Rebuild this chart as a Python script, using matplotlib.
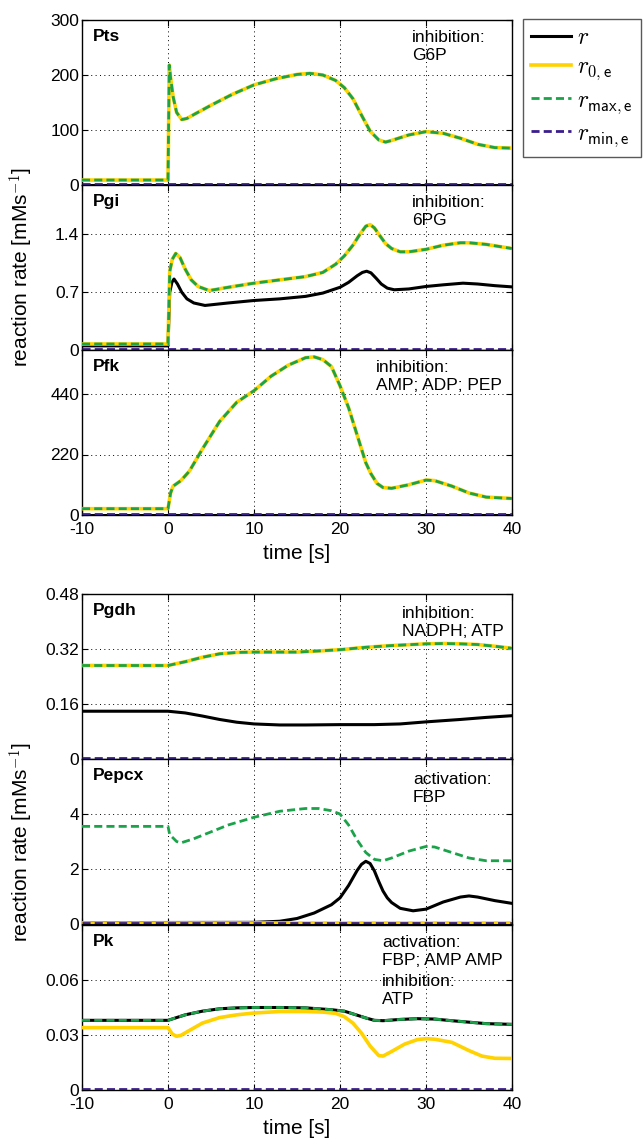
import matplotlib.pyplot as plt
import numpy as np

plt.rcParams['font.family'] = ['Liberation Sans', 'DejaVu Sans']
plt.rcParams['mathtext.fontset'] = 'cm'
plt.rcParams['axes.unicode_minus'] = False

# ---- data ----
# Pts
t_pts = [-10, 0, 0.15, 0.3, 0.6, 1, 1.6, 2.2, 3, 5, 7.5, 10, 12.5, 15, 16.5, 18, 19.5, 20.5, 21.5, 22.5, 23.5, 24.5, 25.3, 26, 28, 30, 32, 34, 36, 38, 40]
pts_r0 = [9, 9, 218, 195, 160, 132, 119, 121, 128, 145, 165, 182, 193, 201, 203, 200, 190, 177, 157, 127, 98, 82, 78, 81, 91, 97, 94, 85, 74, 68, 67]
t_flat = [-10, 40]
pts_r = [0.8, 0.8]
pts_rmin = [2.5, 2.5]

# Pgi
t_pgi = [-10, 0, 0.2, 0.5, 0.9, 1.4, 2, 2.7, 3.5, 4.8, 7, 10, 13, 16, 18, 19.5, 20.5, 21.5, 22.3, 23, 23.5, 24, 24.6, 25.3, 26, 27, 28, 30, 32, 34, 35, 37, 40]
pgi_r0 = [0.073, 0.073, 0.95, 1.1, 1.17, 1.12, 0.98, 0.85, 0.77, 0.72, 0.76, 0.81, 0.85, 0.89, 0.94, 1.04, 1.14, 1.27, 1.4, 1.5, 1.52, 1.48, 1.39, 1.29, 1.23, 1.19, 1.19, 1.22, 1.27, 1.3, 1.3, 1.28, 1.23]
t_pgi_r = [-10, 0, 0.2, 0.45, 0.7, 1.1, 1.6, 2.2, 3, 4.3, 7, 10, 13, 16, 18, 20, 21, 22, 22.6, 23.1, 23.6, 24.2, 24.8, 25.5, 26.3, 28, 30, 32, 34.3, 36, 38, 40]
pgi_r = [0.05, 0.05, 0.7, 0.82, 0.86, 0.8, 0.7, 0.62, 0.57, 0.54, 0.57, 0.6, 0.62, 0.65, 0.69, 0.76, 0.82, 0.9, 0.94, 0.955, 0.935, 0.87, 0.8, 0.75, 0.73, 0.74, 0.77, 0.79, 0.81, 0.8, 0.78, 0.765]
pgi_rmin = [0.01, 0.01]

# Pfk
t_pfk = [-10, 0, 0.3, 0.6, 1.5, 2.5, 4, 5, 6, 8, 10, 12, 14, 16, 17, 18, 19, 20, 21, 22, 23, 23.6, 24.3, 25, 26, 28, 30, 31, 33, 35, 37, 40]
pfk_r0 = [23, 23, 80, 105, 125, 160, 240, 290, 340, 410, 452, 505, 545, 572, 575, 565, 540, 470, 390, 290, 190, 150, 115, 100, 97, 110, 127, 125, 105, 80, 65, 60]
pfk_r = [0.5, 0.5]
pfk_rmin = [2, 2]

# Pgdh
t_pgdh = [-10, 0, 2, 4, 6, 8, 10, 12, 15, 18, 20, 23, 26, 30, 32, 34, 36, 38, 40]
pgdh_r0 = [0.272, 0.272, 0.283, 0.296, 0.306, 0.31, 0.311, 0.311, 0.311, 0.315, 0.318, 0.325, 0.33, 0.335, 0.336, 0.335, 0.333, 0.328, 0.322]
t_pgdh_r = [-10, 0, 2, 4, 6, 8, 10, 13, 16, 20, 24, 27, 30, 34, 37, 40]
pgdh_r = [0.139, 0.139, 0.134, 0.125, 0.115, 0.107, 0.102, 0.099, 0.099, 0.1, 0.1, 0.102, 0.108, 0.115, 0.121, 0.126]
pgdh_rmin = [0.004, 0.004]

# Pepcx
t_pep = [-10, 0, 0.2, 1, 1.5, 3, 5, 7, 10, 13, 16, 17.5, 19, 20, 21, 22, 23, 24, 25, 26, 28, 30, 31, 33, 35, 37, 40]
pep_rmax = [3.55, 3.55, 3.25, 3.0, 2.95, 3.1, 3.35, 3.6, 3.88, 4.1, 4.2, 4.2, 4.12, 4.0, 3.6, 3.05, 2.6, 2.35, 2.3, 2.4, 2.65, 2.82, 2.8, 2.6, 2.4, 2.3, 2.3]
t_pep_r = [-10, 10, 13, 15, 17, 19, 20, 21, 22, 22.5, 23, 23.5, 24, 24.5, 25, 25.5, 26, 27, 28.5, 30, 32, 34, 35, 36, 38, 40]
pep_r = [0.05, 0.06, 0.1, 0.2, 0.4, 0.7, 0.95, 1.4, 1.95, 2.17, 2.28, 2.2, 1.93, 1.55, 1.2, 0.95, 0.78, 0.57, 0.48, 0.54, 0.8, 0.98, 1.02, 0.98, 0.85, 0.75]
pep_r0 = [0.05, 0.05]
pep_rmin = [0.05, 0.05]

# Pk
t_pk = [-10, 0, 1, 2, 4, 6, 8, 10, 13, 16, 19, 20.5, 22, 23, 24, 25, 27, 29, 31, 33, 35, 37, 40]
pk_r = [0.038, 0.038, 0.0395, 0.041, 0.043, 0.0443, 0.0448, 0.045, 0.045, 0.0448, 0.0438, 0.043, 0.0408, 0.0393, 0.038, 0.0378, 0.0385, 0.0389, 0.0387, 0.0378, 0.037, 0.0362, 0.0358]
t_pk0 = [-10, 0, 0.5, 1, 1.5, 2.5, 4, 6, 8, 10, 13, 16, 18, 19.5, 20.5, 21.5, 22.5, 23.5, 24.5, 25, 26, 27.5, 29, 30, 31, 33, 35, 36.5, 38, 40]
pk_r0 = [0.034, 0.034, 0.0305, 0.0293, 0.0298, 0.0325, 0.0365, 0.0395, 0.041, 0.042, 0.0428, 0.0428, 0.0425, 0.0418, 0.04, 0.0365, 0.031, 0.024, 0.0188, 0.0185, 0.021, 0.025, 0.0275, 0.028, 0.0277, 0.026, 0.0215, 0.0185, 0.0173, 0.0172]
pk_rmin = [0.0004, 0.0004]

names = ["Pts", "Pgi", "Pfk", "Pgdh", "Pepcx", "Pk"]
# each note: list of (text block, top position in axes fraction)
notes = [[("inhibition:\nG6P", 0.94)],
         [("inhibition:\n6PG", 0.94)],
         [("inhibition:\nAMP; ADP; PEP", 0.94)],
         [("inhibition:\nNADPH; ATP", 0.93)],
         [("activation:\nFBP", 0.92)],
         [("activation:\nFBP; AMP AMP", 0.94), ("inhibition:\nATP", 0.705)]]
note_x = [0.767, 0.767, 0.684, 0.744, 0.77, 0.698]
yticks = [[0, 100, 200, 300], [0, 0.7, 1.4], [0, 220, 440], [0, 0.16, 0.32, 0.48], [0, 2, 4], [0, 0.03, 0.06]]
yticklabels = [["0", "100", "200", "300"], ["0", "0.7", "1.4"], ["0", "220", "440"],
               ["0", "0.16", "0.32", "0.48"], ["0", "2", "4"], ["0", "0.03", "0.06"]]
ylims = [300, 2.0, 600, 0.48, 6, 0.09]

black = "black"
yellow = "#FFD200"
green = "#1BA34A"
purple = "#3A1E8C"
dash = (0, (2.9, 1.5))

fig = plt.figure(figsize=(6.43, 11.43), dpi=100)
W, H = 643.0, 1143.0
left = 82 / W
width = 430 / W
ph = 165 / H
bottoms = [(H - 185) / H, (H - 350) / H, (H - 515) / H,
           (H - 759) / H, (H - 924) / H, (H - 1090) / H]
axes = [fig.add_axes([left, b, width, ph]) for b in bottoms]

def draw(ax, t_r, r, t_r0, r0, t_max, rmax, t_min, rmin):
    ax.plot(t_r, r, color=black, lw=2.2, zorder=3)
    ax.plot(t_r0, r0, color=yellow, lw=2.6, zorder=4)
    ax.plot(t_max, rmax, color=green, lw=2.0, ls=dash, zorder=5)
    ax.plot(t_min, rmin, color=purple, lw=2.0, ls=dash, zorder=6)

draw(axes[0], t_flat, pts_r, t_pts, pts_r0, t_pts, pts_r0, t_flat, pts_rmin)
draw(axes[1], t_pgi_r, pgi_r, t_pgi, pgi_r0, t_pgi, pgi_r0, t_flat, pgi_rmin)
draw(axes[2], t_flat, pfk_r, t_pfk, pfk_r0, t_pfk, pfk_r0, t_flat, pfk_rmin)
draw(axes[3], t_pgdh_r, pgdh_r, t_pgdh, pgdh_r0, t_pgdh, pgdh_r0, t_flat, pgdh_rmin)
draw(axes[4], t_pep_r, pep_r, t_flat, pep_r0, t_pep, pep_rmax, t_flat, pep_rmin)
draw(axes[5], t_pk, pk_r, t_pk0, pk_r0, t_pk, pk_r, t_flat, pk_rmin)

for i, ax in enumerate(axes):
    ax.set_xlim(-10, 40)
    ax.set_ylim(0, ylims[i])
    ax.set_xticks([-10, 0, 10, 20, 30, 40])
    ax.set_yticks(yticks[i])
    ax.set_yticklabels(yticklabels[i])
    ax.grid(True, ls=(0, (1, 3.5)), color="black", lw=0.7)
    ax.tick_params(direction="in", top=True, right=True, labelsize=12.5, length=4)
    ax.tick_params(axis="y", pad=2)
    ax.tick_params(axis="x", pad=5)
    for s in ax.spines.values():
        s.set_linewidth(1.0)
    if i not in (2, 5):
        ax.set_xticklabels([])
    else:
        ax.set_xlabel("time [s]", fontsize=15, labelpad=5)
    ax.text(0.025, 0.9, names[i], transform=ax.transAxes, fontsize=12.5,
            fontweight="bold", va="center", ha="left")
    for txt, ytop in notes[i]:
        ax.text(note_x[i], ytop, txt, transform=ax.transAxes, fontsize=12.5,
                va="top", ha="left", linespacing=1.25)

fig.text(22 / W, 1 - 267 / H, r"reaction rate [mMs$^{\mathsf{-1}}$]", rotation=90,
         fontsize=15, ha="center", va="center")
fig.text(22 / W, 1 - 842 / H, r"reaction rate [mMs$^{\mathsf{-1}}$]", rotation=90,
         fontsize=15, ha="center", va="center")

handles = [plt.Line2D([], [], color=black, lw=2.2),
           plt.Line2D([], [], color=yellow, lw=2.6),
           plt.Line2D([], [], color=green, lw=2.0, ls=dash),
           plt.Line2D([], [], color=purple, lw=2.0, ls=dash)]
labels = [r"$r$", r"$r_{0,\mathsf{e}}$", r"$r_{\mathsf{max,e}}$", r"$r_{\mathsf{min,e}}$"]
leg = fig.legend(handles, labels, loc="upper left", bbox_to_anchor=(523 / W, 1 - 19 / H),
                 fontsize=17, fancybox=False, edgecolor="0.35", framealpha=1,
                 handlelength=1.7, labelspacing=0.3, borderpad=0.35, handletextpad=0.25,
                 borderaxespad=0)
leg.get_frame().set_linewidth(1.0)

fig.savefig("out.png", dpi=100)
